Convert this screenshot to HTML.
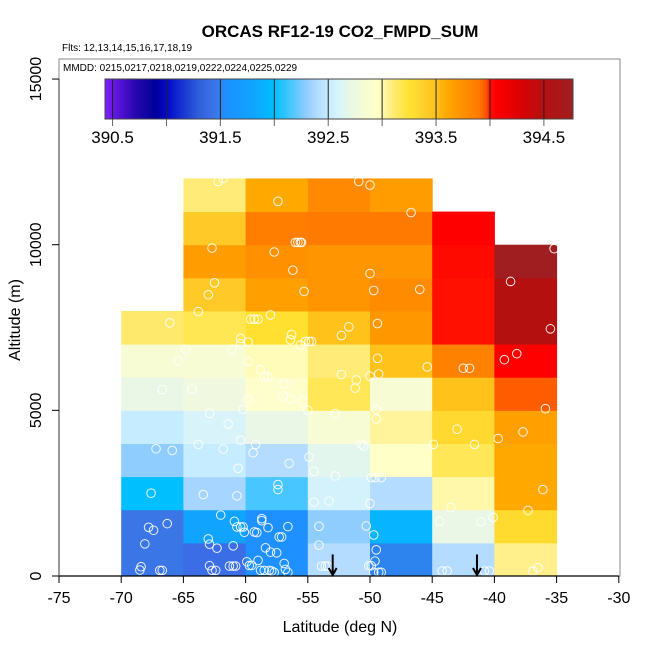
<!DOCTYPE html>
<html><head><meta charset="utf-8">
<style>
html,body{margin:0;padding:0;background:#fff;}
svg{display:block;font-family:"Liberation Sans",Arial,sans-serif;}
</style></head>
<body>
<svg id="chart" width="650" height="650" viewBox="0 0 650 650" xmlns="http://www.w3.org/2000/svg">
<rect x="0" y="0" width="650" height="650" fill="#fff"/>
<g id="cells"></g>
<g id="points"></g>
<g id="arrows"></g>
<rect x="59" y="59" width="561" height="517" fill="none" stroke="#888" stroke-width="1"/>
<g id="axes"></g>
<g id="cbar"></g>
<text x="340" y="37" text-anchor="middle" font-size="17" font-weight="bold">ORCAS RF12-19 CO2_FMPD_SUM</text>
<text x="62" y="51" font-size="10">Flts: 12,13,14,15,16,17,18,19</text>
<text x="63" y="71" font-size="10">MMDD: 0215,0217,0218,0219,0222,0224,0225,0229</text>
<text x="340" y="632" text-anchor="middle" font-size="16">Latitude (deg N)</text>
<text x="0" y="0" transform="translate(20,320) rotate(-90)" text-anchor="middle" font-size="16">Altitude (m)</text>
</svg>
<script>
// ---- data ----
const colStartLat = [-70, -65, -60, -55, -50, -45, -40];
const binWidthDeg = 5;
const binHeightM = 1000;
const col0 = [391.45,391.45,392.0,392.3,392.5,392.7,392.85,393.12];
const col1 = [391.4,391.8,392.36,392.5,392.6,392.76,392.85,393.18,393.42,393.67,393.42,393.1];
const col2 = [391.55,391.55,392.15,392.4,392.7,392.92,393.0,393.25,393.65,393.75,393.87,393.6];
const col3 = [392.4,392.3,392.58,392.66,392.85,393.17,393.1,393.5,393.72,393.72,393.9,393.8];
const col4 = [391.5,391.92,392.4,392.95,393.04,392.85,393.5,393.7,393.78,393.72,393.9,393.67];
const col5 = [392.4,392.7,393.02,393.17,393.33,393.5,393.85,394.0,394.0,394.02,394.05];
const col6 = [393.06,393.3,393.6,393.6,393.65,393.95,394.05,394.5,394.5,394.77];
const columns = [col0,col1,col2,col3,col4,col5,col6];
const pointLat = [-62.2,-61.8,-50.9,-50.0,-57.4,-46.7,-62.7,-57.7,-56.0,-55.8,-55.6,-55.5,-56.2,-50.0,-62.5,-63.0,-55.3,-49.7,-46.0,-63.8,-66.1,-59.6,-59.3,-59.0,-58.0,-49.4,-51.7,-52.3,-56.3,-56.4,-60.4,-59.8,-60.4,-55.6,-55.2,-54.9,-54.7,-64.8,-61.1,-65.4,-59.8,-49.4,-39.2,-38.2,-42.5,-42.0,-45.4,-52.3,-50.0,-49.3,-51.1,-51.2,-58.8,-58.5,-58.2,-66.7,-64.3,-56.9,-57.0,-56.4,-55.4,-59.8,-60.2,-55.0,-49.5,-49.5,-52.8,-62.9,-61.4,-43.0,-35.9,-37.7,-39.7,-60.4,-63.8,-59.2,-61.8,-59.4,-67.2,-65.9,-44.9,-41.6,-50.7,-50.5,-54.9,-56.5,-60.6,-54.5,-52.8,-49.9,-49.6,-49.1,-57.4,-57.4,-60.7,-63.4,-67.6,-36.1,-54.5,-53.3,-50.0,-43.5,-37.3,-62.0,-58.7,-58.7,-60.9,-60.7,-60.4,-60.2,-60.1,-59.3,-59.1,-58.2,-56.6,-54.1,-50.3,-44.4,-41.1,-40.1,-66.3,-67.8,-67.4,-68.1,-63.0,-62.9,-62.3,-61.0,-58.4,-58.0,-57.5,-57.3,-57.1,-54.1,-49.7,-49.5,-49.6,-68.4,-68.5,-66.9,-66.7,-62.9,-62.7,-62.4,-61.3,-61.0,-60.8,-59.9,-59.7,-59.5,-59.0,-58.8,-58.5,-58.1,-57.9,-57.7,-56.9,-56.8,-56.6,-53.9,-53.6,-53.4,-50.1,-49.9,-49.7,-49.3,-49.1,-44.2,-43.8,-40.8,-40.4,-36.9,-36.5,-35.2,-38.7,-35.5];
const pointAlt = [11910,12000,11910,11800,11310,10970,9900,9780,10070,10070,10070,10070,9230,9130,8850,8490,8590,8620,8650,7980,7640,7750,7750,7750,7880,7620,7520,7260,7290,7130,7170,7060,7010,6970,7080,7080,7080,6830,6830,6490,6480,6570,6530,6710,6270,6270,6310,6080,6030,6100,5920,5670,6230,6010,6010,5630,5630,5790,5430,5340,5280,5340,5030,5000,5030,4740,4900,4910,4590,4430,5050,4350,4150,4100,3970,3970,3830,3720,3840,3790,3970,3970,3980,3920,3590,3400,3250,3160,3020,2970,2970,2970,2760,2610,2420,2460,2500,2610,2230,2260,2190,2070,1980,1840,1730,1670,1650,1480,1480,1480,1320,1330,1310,1460,1490,1500,1510,1650,1630,1770,1580,1470,1380,970,1120,960,840,910,850,720,700,1180,1180,930,1240,790,450,280,180,170,170,310,170,170,300,300,300,430,320,320,470,170,170,170,150,110,380,200,110,300,300,300,310,310,110,110,110,150,150,150,150,150,250,9880,8890,7460];
const arrowLat = [-53.0, -41.4];
const arrowTopAlt = [650, 650];
const xTicks = [-75,-70,-65,-60,-55,-50,-45,-40,-35,-30];
const yTicks = [0,5000,10000,15000];
const cbarTicks = [390.5,391,391.5,392,392.5,393,393.5,394,394.5];
const cbarLabels = [390.5,391.5,392.5,393.5,394.5];
const cbarMin = 390.43, cbarMax = 394.77;

// ---- colormap ----
const stops = [
 [390.43,'#8020ff'],[390.5,'#6a18e8'],[390.7,'#2a08b0'],[390.9,'#00009a'],[391.0,'#0008cc'],
 [391.3,'#2f5fd8'],[391.4,'#3a6de6'],[391.45,'#3a76e6'],[391.5,'#2e84ee'],[391.55,'#1e90ff'],
 [391.8,'#10a4ff'],[392.0,'#00bfff'],[392.15,'#48c6ff'],[392.3,'#90cdff'],[392.4,'#b4dcff'],
 [392.5,'#c6ecff'],[392.6,'#d8f4fa'],[392.7,'#eaf7e6'],[392.85,'#f8fcd4'],[392.95,'#ffffc8'],
 [393.0,'#fffbb8'],[393.06,'#fff08c'],[393.12,'#ffe96c'],[393.17,'#ffe758'],[393.25,'#ffe030'],
 [393.33,'#ffd830'],[393.42,'#ffca28'],[393.5,'#ffc21a'],[393.6,'#ffa800'],[393.75,'#ff9000'],
 [393.9,'#ff7a00'],[393.97,'#ff5000'],[394.0,'#ff1000'],[394.05,'#ff0000'],[394.25,'#e00000'],
 [394.5,'#b41010'],[394.77,'#a01e20']];
function hex(h){return [parseInt(h.substr(1,2),16),parseInt(h.substr(3,2),16),parseInt(h.substr(5,2),16)];}
function cmap(v){
  if(v<=stops[0][0]) return stops[0][1];
  for(let i=1;i<stops.length;i++){
    if(v<=stops[i][0]){
      const a=hex(stops[i-1][1]),b=hex(stops[i][1]);
      const t=(v-stops[i-1][0])/(stops[i][0]-stops[i-1][0]);
      return 'rgb('+a.map((c,k)=>Math.round(c+(b[k]-c)*t)).join(',')+')';
    }
  }
  return stops[stops.length-1][1];
}
// ---- scales ----
const X = lat => 59 + (lat + 75) * 12.44;
const Y = alt => 576 - alt * 0.03313;
const C = v => 105 + (v - cbarMin) / (cbarMax - cbarMin) * 468;
const NS='http://www.w3.org/2000/svg';
function mk(tag,attrs,parent){const e=document.createElementNS(NS,tag);for(const k in attrs)e.setAttribute(k,attrs[k]);parent.appendChild(e);return e;}

// cells
const cells=document.getElementById('cells');
columns.forEach((col,ci)=>{
  col.forEach((v,ri)=>{
    const x0=X(colStartLat[ci]),x1=X(colStartLat[ci]+binWidthDeg);
    const y0=Y((ri+1)*binHeightM),y1=Y(ri*binHeightM);
    const r=mk('rect',{x:x0,y:y0,width:x1-x0+0.5,height:y1-y0+0.5,fill:cmap(v)},cells);
    
    
  });
});
// points
const pts=document.getElementById('points');
pointLat.forEach((lat,i)=>{
  const c=mk('circle',{cx:X(lat),cy:Y(pointAlt[i]),r:4.3,fill:'none',stroke:'#fff','stroke-width':1,'stroke-opacity':0.9},pts);
  
  
});
// arrows
const arr=document.getElementById('arrows');
arrowLat.forEach((lat,i)=>{
  const g=mk('g',{},arr);
  
  
  const x=X(lat),yt=Y(arrowTopAlt[i]),yb=Y(0);
  mk('line',{x1:x,y1:yt,x2:x,y2:yb-1,stroke:'#000','stroke-width':2},g);
  mk('polyline',{points:(x-4)+','+(yb-8)+' '+x+','+(yb-1)+' '+(x+4)+','+(yb-8),fill:'none',stroke:'#000','stroke-width':2},g);
});
// axes
const ax=document.getElementById('axes');
mk('line',{x1:X(-75),y1:576,x2:X(-30),y2:576,stroke:'#000','stroke-width':1.3},ax);
mk('line',{x1:59,y1:Y(0),x2:59,y2:Y(15000),stroke:'#555','stroke-width':1.2},ax);
xTicks.forEach(t=>{
  mk('line',{x1:X(t),y1:576,x2:X(t),y2:583,stroke:'#000'},ax);
  const tx=mk('text',{x:X(t),y:603,'text-anchor':'middle','font-size':16},ax);
  tx.textContent=t;
  
  
});
yTicks.forEach(t=>{
  mk('line',{x1:52,y1:Y(t),x2:59,y2:Y(t),stroke:'#000'},ax);
  const tx=mk('text',{x:0,y:0,'text-anchor':'middle','font-size':16,transform:'translate(41,'+Y(t)+') rotate(-90)'},ax);
  tx.textContent=t;
  
  
});
// colorbar
const cb=document.getElementById('cbar');
for(let i=0;i<468;i++){
  const v=cbarMin+(i+0.5)/468*(cbarMax-cbarMin);
  mk('rect',{x:105+i,y:79,width:1.2,height:40,fill:cmap(v)},cb);
}
cbarTicks.forEach(t=>{
  mk('line',{x1:C(t),y1:79,x2:C(t),y2:119,stroke:'#222','stroke-width':1},cb);
  mk('line',{x1:C(t),y1:119,x2:C(t),y2:126,stroke:'#666','stroke-width':1},cb);
});
mk('rect',{x:105,y:79,width:468,height:40,fill:'none',stroke:'#444','stroke-width':1},cb);
cbarLabels.forEach(t=>{
  const tx=mk('text',{x:C(t),y:143,'text-anchor':'middle','font-size':17},cb);
  tx.textContent=t.toFixed(1);
  
  
});
</script>
</body></html>
